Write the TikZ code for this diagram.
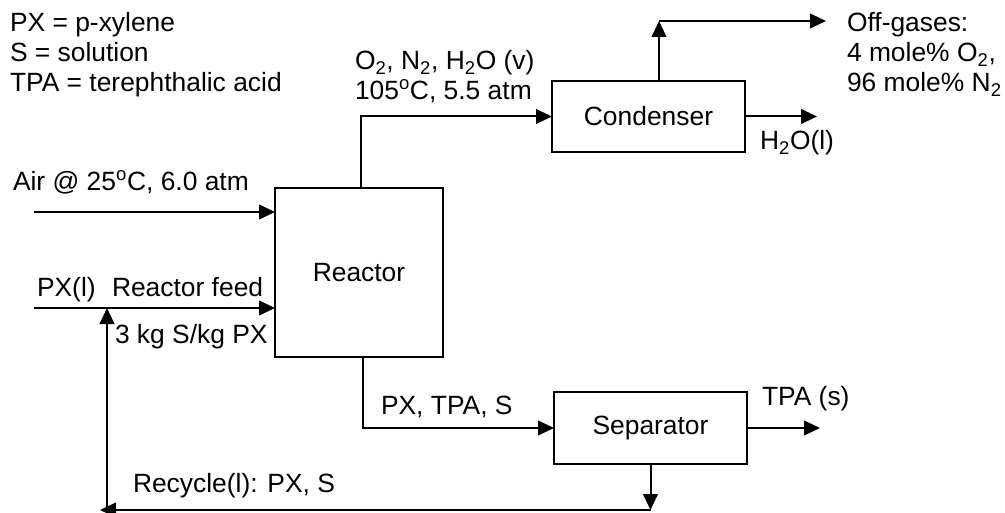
\documentclass[tikz,border=0pt]{standalone}
\usepackage{fontspec}
\setmainfont{Liberation Sans}
\usetikzlibrary{arrows.meta}
\tikzset{
  unit/.style={draw, line width=1.5pt, inner sep=0pt, outer sep=0pt},
  lbl/.style={anchor=base west, inner sep=0pt, outer sep=0pt},
  arr/.style={line width=1.5pt, -{Triangle[length=12pt,width=11pt]}},
  ln/.style={line width=1.5pt}
}
\begin{document}
\begin{tikzpicture}[x=0.75pt, y=-0.75pt, font=\fontsize{19.8pt}{24pt}\selectfont]
\useasboundingbox (0,0) rectangle (1005,513);

% units
\node[unit, minimum width=168*0.75pt, minimum height=169*0.75pt] (R) at (359,272.5) {Reactor};
\node[unit, minimum width=193*0.75pt, minimum height=71*0.75pt] (C) at (648.5,116.5) {Condenser};
\node[unit, minimum width=193*0.75pt, minimum height=72*0.75pt] (S) at (650.5,428) {Separator};

% free ends
\coordinate (airin) at (34,212);
\coordinate (pxin) at (34,308);
\coordinate (offc) at (659,21);
\coordinate (offend) at (826,21);
\coordinate (h2oend) at (817,116.5);
\coordinate (tpaend) at (820,428);
\coordinate (recL) at (100,510);
\coordinate (recV) at (107,510);

% connectors
\draw[arr] (airin) -- (airin -| R.west);
\draw[arr] (pxin) -- (pxin -| R.west);
\draw[arr] ([xshift=1.5pt]R.north) |- (C.west);
\draw[arr] (offc |- C.north) -- (offc);
\draw[arr] (offc) -- (offend);
\draw[arr] (C.east) -- (h2oend);
\draw[arr] ([xshift=3pt]R.south) |- (S.west);
\draw[arr] (S.east) -- (tpaend);
\draw[arr] (S.south) -- (S.south |- recL);
\draw[arr] (S.south |- recL) -- (recL);
\draw[arr] (recV) -- (recV |- pxin);

% legend
\node[lbl] (l1) at (10,32) {PX = p-xylene};
\node[lbl] (l2) at (10,62) {S = solution};
\node[lbl] (l3) at (10,92) {TPA = terephthalic acid};

% stream labels
\node[lbl] (v1) at (355,70) {O\textsubscript{2}, N\textsubscript{2}, H\textsubscript{2}O (v)};
\node[lbl] (v2) at (355,100) {105\textsuperscript{o}C, 5.5 atm};
\node[lbl] (o1) at (847,32) {Off-gases:};
\node[lbl] (o2) at (847,62) {4 mole\% O\textsubscript{2},};
\node[lbl] (o3) at (847,92) {96 mole\% N\textsubscript{2}};
\node[lbl] (w) at (760,150) {H\textsubscript{2}O(l)};
\node[lbl] (air) at (13,191) {Air @ 25\textsuperscript{o}C, 6.0 atm};
\node[lbl] (px) at (37,296) {PX(l)};
\node[lbl] (rf) at (112,296) {Reactor feed};
\node[lbl] (ratio) at (115,343) {3 kg S/kg PX};
\node[lbl] (pts) at (381,414) {PX, TPA, S};
\node[lbl] (tpa) at (762,405) {TPA (s)};
\node[lbl] (rec) at (133,492) {Recycle(l): PX, S};
\end{tikzpicture}
\end{document}
